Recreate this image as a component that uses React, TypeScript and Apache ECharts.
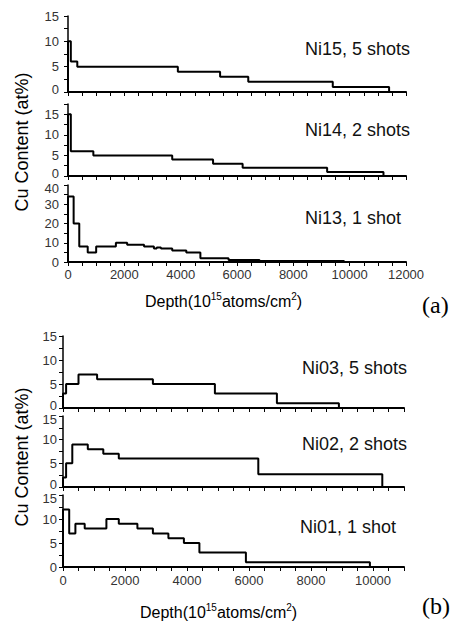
import { useRef, useEffect } from "react";
import * as echarts from "echarts";

// layer boundaries (10^15 atoms/cm2) and Cu content (at%) of each layer
const ni15Edges = [0, 100, 330, 3900, 5400, 6400, 9400, 11400];
const ni15Values = [10, 6, 5, 4, 3, 2, 1];
const ni14Edges = [0, 100, 900, 3700, 5150, 6200, 9200, 11200];
const ni14Values = [15, 6, 5, 4, 3, 2, 1];
const ni13Edges = [0, 200, 400, 700, 1000, 1700, 2100, 2700, 3050, 3150, 3300, 3700, 4200, 4700, 5700, 6800, 9800];
const ni13Values = [34, 20, 8, 5, 8, 10, 9, 8, 7, 7.5, 7, 6, 5, 2, 1, 0.5];

const ni03Edges = [0, 100, 500, 1100, 2900, 4900, 6900, 8900];
const ni03Values = [3, 5, 7, 6, 5, 3, 1];
const ni02Edges = [0, 100, 300, 800, 1300, 1800, 6300, 10300];
const ni02Values = [2, 5, 9, 8, 7, 6, 2.7];
const ni01Edges = [0, 200, 400, 700, 1400, 1800, 2400, 2900, 3400, 3900, 4400, 5900, 9900];
const ni01Values = [12, 7, 9, 8, 10, 9, 8, 7, 6, 5, 3, 1];

const panelNames = ["Ni15, 5 shots", "Ni14, 2 shots", "Ni13, 1 shot", "Ni03, 5 shots", "Ni02, 2 shots", "Ni01, 1 shot"];
const yMaxes = [15, 17.5, 40, 15, 15, 15];
const yIntervals = [2.5, 2.5, 5, 2.5, 2.5, 2.5];
const yLabelSteps = [5, 5, 10, 5, 5, 5];
const xMaxes = [12000, 12000, 12000, 11000, 11000, 11000];

const edges = [ni15Edges, ni14Edges, ni13Edges, ni03Edges, ni02Edges, ni01Edges];
const values = [ni15Values, ni14Values, ni13Values, ni03Values, ni02Values, ni01Values];

// plot areas: [left, top, width, height]
const grids = [
  [68, 16, 338, 76],
  [68, 104, 338, 72],
  [68, 185, 338, 77],
  [63, 336, 341, 72],
  [63, 416, 341, 71],
  [63, 495, 341, 72],
];
const nameY = [49, 130, 218, 368, 444, 527];
const nameX = [305, 305, 305, 302, 302, 300];

const FONT = "'Liberation Sans', Arial, sans-serif";

function stepPoints(e: number[], v: number[]) {
  const pts: number[][] = [[0, 0]];
  v.forEach((val, i) => pts.push([e[i], val]));
  const last = e[e.length - 1];
  pts.push([last, v[v.length - 1]]);
  pts.push([last, 0]);
  return pts;
}

function depthTitle(x: number, y: number) {
  return {
    type: "text",
    x,
    y,
    style: {
      text: "{a|Depth(10}{s|15}{a|atoms/cm}{s|2}{a|)}",
      verticalAlign: "middle",
      fill: "#000",
      rich: {
        a: { fontSize: 16, lineHeight: 20, fontFamily: FONT, fill: "#000" },
        s: { fontSize: 10, lineHeight: 12, verticalAlign: "top", fontFamily: FONT, fill: "#000" },
      },
    },
  };
}

function yTitle(cx: number, cy: number) {
  return {
    type: "text",
    x: cx,
    y: cy,
    rotation: Math.PI / 2,
    style: {
      text: "Cu Content (at%)",
      font: `18px ${FONT}`,
      fill: "#000",
      align: "center",
      verticalAlign: "middle",
    },
  };
}

function letter(text: string, x: number, y: number) {
  return {
    type: "text",
    x,
    y,
    style: {
      text,
      font: "24px 'Liberation Serif', 'Times New Roman', serif",
      fill: "#000",
      verticalAlign: "middle",
    },
  };
}

export default function App() {
  const chartRef = useRef<HTMLDivElement>(null);

  useEffect(() => {
    if (!chartRef.current) return;
    const chart = echarts.init(chartRef.current, null, { renderer: "svg" });

    const tickText = { fontSize: 13, fontFamily: FONT, color: "#333" };

    const option = {
      animation: false,
      backgroundColor: "#fff",
      grid: grids.map(([left, top, width, height]) => ({ left, top, width, height })),
      xAxis: grids.map((_, i) => ({
        type: "value",
        gridIndex: i,
        min: 0,
        max: xMaxes[i],
        interval: 500,
        axisLine: { lineStyle: { color: "#000", width: 2 } },
        axisTick: { show: true, length: 4, lineStyle: { color: "#000", width: 1 } },
        axisLabel: {
          show: i === 2 || i === 5,
          margin: i === 2 ? 6 : 7,
          ...tickText,
          formatter: (v: number) => (v % 2000 === 0 ? String(v) : ""),
        },
        splitLine: { show: false },
      })),
      yAxis: grids.map((_, i) => ({
        type: "value",
        gridIndex: i,
        min: 0,
        max: yMaxes[i],
        interval: yIntervals[i],
        axisLine: { show: true, onZero: false, lineStyle: { color: "#000", width: 1.5 } },
        axisTick: { show: true, length: 4, lineStyle: { color: "#000", width: 1 } },
        axisLabel: {
          margin: i < 3 ? 9 : 6,
          ...tickText,
          // nudge the end labels of stacked panels apart so they do not collide
          formatter: (v: number) => {
            if (v % yLabelSteps[i] !== 0) return "";
            if (v === 0 && i !== 2 && i !== 5) return `{lo|${v}}`;
            if (v === yMaxes[i] && i !== 0 && i !== 3) return `{hi|${v}}`;
            return String(v);
          },
          rich: {
            lo: { ...tickText, padding: [0, 0, 6, 0] },
            hi: { ...tickText, padding: [6, 0, 0, 0] },
          },
        },
        splitLine: { show: false },
      })),
      series: edges.map((e, i) => ({
        type: "line",
        name: panelNames[i],
        xAxisIndex: i,
        yAxisIndex: i,
        step: "end",
        symbol: "none",
        data: stepPoints(e, values[i]),
        lineStyle: { color: "#000", width: 2 },
        itemStyle: { color: "#000" },
      })),
      graphic: [
        ...panelNames.map((name, i) => ({
          type: "text",
          x: nameX[i],
          y: nameY[i],
          style: {
            text: name,
            font: `18px ${FONT}`,
            fill: "#111",
            verticalAlign: "middle",
          },
        })),
        yTitle(22, 142),
        yTitle(22, 457),
        depthTitle(145, 301),
        depthTitle(140, 612),
        letter("(a)", 422, 305),
        letter("(b)", 422, 606),
      ],
    };

    chart.setOption(option as any);

    return () => {
      chart.dispose();
    };
  }, []);

  return (
    <div
      ref={chartRef}
      style={{ position: "fixed", left: 0, top: 0, width: "455px", height: "628px", background: "#fff" }}
    />
  );
}
